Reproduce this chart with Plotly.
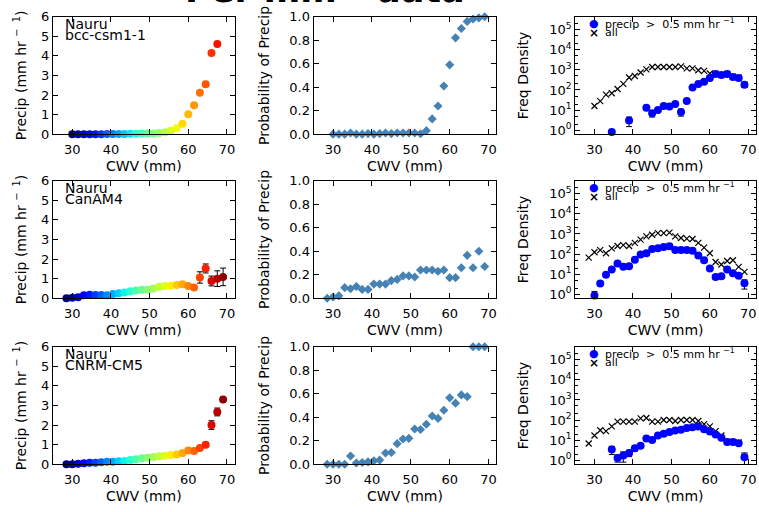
import plotly.graph_objects as go
from plotly.subplots import make_subplots

FONT = "DejaVu Sans"

# ---------------- data ----------------
# CWV bin centres (mm)
cwv_bcc = [30.0, 31.5, 33.0, 34.5, 36.0, 37.5, 39.0, 40.5, 42.0, 43.5, 45.0, 46.5, 48.0, 49.5,
           51.0, 52.5, 54.0, 55.5, 57.0, 58.5, 60.0, 61.5, 63.0, 64.5, 66.0, 67.5, 69.0]
cwv_mod = [28.5, 30.0, 31.5, 33.0, 34.5, 36.0, 37.5, 39.0, 40.5, 42.0, 43.5, 45.0, 46.5, 48.0,
           49.5, 51.0, 52.5, 54.0, 55.5, 57.0, 58.5, 60.0, 61.5, 63.0, 64.5, 66.0, 67.5, 69.0]

site = "Nauru"
models = ["bcc-csm1-1", "CanAM4", "CNRM-CM5"]

# bcc-csm1-1
bcc_precip = [0.0, 0.0, 0.0, 0.0, 0.0, 0.0, 0.01, 0.01, 0.01, 0.01, 0.02, 0.02, 0.03, 0.03,
              0.04, 0.06, 0.1, 0.18, 0.3, 0.53, 1.02, 1.48, 2.12, 2.55, 4.15, 4.6, None]
bcc_precip_err = [0] * 27
bcc_prob = [0.0, 0.0, 0.0, 0.01, 0.0, 0.0, 0.005, 0.0, 0.005, 0.01, 0.005, 0.01, 0.01, 0.01,
            0.01, 0.003, 0.03, 0.13, 0.24, 0.41, 0.59, 0.82, 0.9, 0.96, 0.98, 0.99, 1.0]
bcc_all = [16, 28, 59, 69, 112, 200, 420, 500, 740, 1070, 1400, 1400, 1400, 1400, 1400, 1500,
           1200, 1200, 960, 890, 660, 640, 570, 640, 460, 410, 185]
bcc_wet = [None, None, None, 0.8, None, None, 3.0, None, None, 13, 7, 10, 16, 15, 20, 8, 28,
           135, 200, 260, 400, 630, 560, 630, 450, 400, 180]
bcc_wet_err = [0, 0, 0, 0, 0, 0, 1.5, 0, 0, 0, 2.5, 0, 0, 0, 0, 3, 0, 0, 0, 0, 0, 0, 0, 0, 0, 0, 0]

# CanAM4
can_precip = [0.0, 0.02, 0.05, 0.15, 0.18, 0.17, 0.16, 0.15, 0.22, 0.26, 0.29, 0.35, 0.39, 0.43,
              0.43, 0.5, 0.58, 0.63, 0.64, 0.68, 0.71, 0.63, 0.55, 1.06, 1.52, 0.88, 1.0, 1.09]
can_precip_err = [0, 0, 0, 0, 0, 0, 0, 0, 0, 0, 0, 0, 0, 0, 0, 0, 0, 0, 0, 0, 0, 0, 0,
                  0.29, 0.23, 0.25, 0.4, 0.45]
can_prob = [0.0, 0.01, 0.02, 0.09, 0.08, 0.1, 0.075, 0.075, 0.12, 0.12, 0.12, 0.15, 0.16, 0.19,
            0.19, 0.18, 0.24, 0.24, 0.24, 0.23, 0.24, 0.175, 0.175, 0.26, 0.365, 0.26, 0.4, 0.27]
can_all = [66, 123, 158, 110, 190, 250, 280, 250, 360, 525, 760, 910, 1100, 1100, 1170, 760,
           630, 590, 560, 360, 210, 110, 40, 30, 45, 49, 23, 13]
can_wet = [None, 0.87, 3.4, 9.3, 17, 34, 23, 25, 52, 94, 110, 177, 195, 227, 245, 158, 158,
           158, 147, 84, 49, 19, 7.2, 7.8, 17, 11, 8.4, 3.5]
can_wet_err = [0, 0.5, 0, 0, 0, 0, 0, 0, 0, 0, 0, 0, 0, 0, 0, 0, 0, 0, 0, 0, 0, 0, 1.5, 0, 0,
               0, 0, 1.7]

# CNRM-CM5
cnrm_precip = [0.0, 0.0, 0.02, 0.05, 0.07, 0.08, 0.1, 0.12, 0.13, 0.15, 0.17, 0.22, 0.25, 0.3,
               0.33, 0.37, 0.4, 0.43, 0.47, 0.5, 0.57, 0.7, 0.67, 0.83, 1.0, 2.0, 2.67, 3.3]
cnrm_precip_err = [0, 0, 0, 0, 0, 0, 0, 0, 0, 0, 0, 0, 0, 0, 0, 0, 0, 0, 0, 0, 0, 0, 0,
                   0.05, 0.1, 0.22, 0.2, 0.06]
cnrm_prob = [0.0, 0.0, 0.0, 0.0, 0.07, 0.01, 0.015, 0.02, 0.03, 0.035, 0.095, 0.1, 0.175, 0.215,
             0.22, 0.3, 0.295, 0.34, 0.41, 0.39, 0.46, 0.565, 0.52, 0.59, 0.575, 1.0, 1.0, 1.0]
cnrm_all = [6.8, 17, 31, 28, 48, 83, 83, 83, 83, 120, 126, 83, 83, 100, 100, 89, 100, 100, 100,
            89, 62, 48, 28, 17, 8.1, 8.1, 7.6, 1.5]
cnrm_wet = [None, None, None, None, 3.4, 1.3, 1.7, 2.3, 3.9, 5.2, 12, 10, 17, 21, 25, 30, 33,
            40, 44, 48, 35, 27, 19, 13, 8, 8, 7, 1.4]
cnrm_wet_err = [0, 0, 0, 0, 1.5, 0.5, 0.9, 0.8, 1.0, 0, 0, 0, 0, 0, 0, 0, 0, 0, 0, 0, 0, 0, 0,
                0, 0, 0, 0, 0.9]

x_ticks = [30, 40, 50, 60, 70]
precip_ticks = [0, 1, 2, 3, 4, 5, 6]
prob_ticks = [0.0, 0.2, 0.4, 0.6, 0.8, 1.0]
freq_ticks = [1, 10, 100, 1000, 10000, 100000]
freq_ticktext = ["10<sup>0</sup>", "10<sup>1</sup>", "10<sup>2</sup>",
                 "10<sup>3</sup>", "10<sup>4</sup>", "10<sup>5</sup>"]

rows = [
    dict(model=models[0], x=cwv_bcc, precip=bcc_precip, perr=bcc_precip_err, prob=bcc_prob,
         all=bcc_all, wet=bcc_wet, werr=bcc_wet_err, cmin=30.0, cmax=72.0),
    dict(model=models[1], x=cwv_mod, precip=can_precip, perr=can_precip_err, prob=can_prob,
         all=can_all, wet=can_wet, werr=can_wet_err, cmin=28.5, cmax=69.5),
    dict(model=models[2], x=cwv_mod, precip=cnrm_precip, perr=cnrm_precip_err, prob=cnrm_prob,
         all=cnrm_all, wet=cnrm_wet, werr=cnrm_wet_err, cmin=28.5, cmax=69.5),
]


# matplotlib-style "jet" colour map built from its piecewise-linear segments
def _seg(points, v):
    for (x0, y0), (x1, y1) in zip(points[:-1], points[1:]):
        if x0 <= v <= x1:
            return y0 if x1 == x0 else y0 + (y1 - y0) * (v - x0) / (x1 - x0)
    return points[-1][1]


_red = [(0, 0), (0.35, 0), (0.66, 1), (0.89, 1), (1, 0.5)]
_green = [(0, 0), (0.125, 0), (0.375, 1), (0.64, 1), (0.91, 0), (1, 0)]
_blue = [(0, 0.5), (0.11, 1), (0.34, 1), (0.65, 0), (1, 0)]
_stops = [0, 0.11, 0.125, 0.34, 0.35, 0.375, 0.64, 0.65, 0.66, 0.89, 0.91, 1]
jet = [[s, "rgb(%d,%d,%d)" % (round(255 * _seg(_red, s)), round(255 * _seg(_green, s)),
                              round(255 * _seg(_blue, s)))] for s in _stops]

# ---------------- figure ----------------
fig = make_subplots(rows=3, cols=3)

col_dom = [[53 / 759, 235 / 759], [314 / 759, 497 / 759], [576 / 759, 757 / 759]]
row_dom = [[1 - 131 / 512, 1 - 10 / 512], [1 - 300 / 512, 1 - 179 / 512],
           [1 - 471 / 512, 1 - 350 / 512]]

err_style = dict(type="data", color="black", thickness=1, width=3)

for r, d in enumerate(rows, start=1):
    # mean precip vs CWV
    fig.add_trace(go.Scatter(
        x=d["x"], y=d["precip"], mode="markers", cliponaxis=False,
        marker=dict(size=8, color=d["x"], colorscale=jet, cmin=d["cmin"], cmax=d["cmax"],
                    line=dict(width=0)),
        error_y=dict(array=d["perr"], **err_style), showlegend=False), row=r, col=1)
    # probability of precip
    fig.add_trace(go.Scatter(
        x=d["x"], y=d["prob"], mode="markers", cliponaxis=False,
        marker=dict(size=7, symbol="diamond", color="#4682B4", line=dict(width=0)),
        showlegend=False), row=r, col=2)
    # frequency densities
    fig.add_trace(go.Scatter(
        x=d["x"], y=d["all"], mode="markers", cliponaxis=False,
        marker=dict(size=6, symbol="x-thin-open", color="black", line=dict(width=1.2, color="black")),
        showlegend=False), row=r, col=3)
    fig.add_trace(go.Scatter(
        x=d["x"], y=d["wet"], mode="markers", cliponaxis=False,
        marker=dict(size=8, color="#0000FF", line=dict(width=0)),
        error_y=dict(array=d["werr"], **err_style), showlegend=False), row=r, col=3)

    # site / model label
    ax1 = (r - 1) * 3 + 1
    xr1 = "x%s domain" % ("" if ax1 == 1 else ax1)
    yr1 = "y%s domain" % ("" if ax1 == 1 else ax1)
    fig.add_annotation(xref=xr1, yref=yr1, x=0.055, y=0.935, xanchor="left", yanchor="middle",
                       showarrow=False, text=site,
                       font=dict(family=FONT, size=14, color="black"))
    fig.add_annotation(xref=xr1, yref=yr1, x=0.055, y=0.845, xanchor="left", yanchor="middle",
                       showarrow=False, text=d["model"],
                       font=dict(family=FONT, size=14, color="black"))
    # legend of the frequency panel
    ax3 = (r - 1) * 3 + 3
    xr, yr = "x%d domain" % ax3, "y%d domain" % ax3
    fig.add_annotation(xref=xr, yref=yr, x=0.105, y=0.945, xanchor="center", yanchor="middle",
                       showarrow=False, text="●",
                       font=dict(family=FONT, size=11, color="#0000FF"))
    fig.add_annotation(xref=xr, yref=yr, x=0.155, y=0.94, xanchor="left", yanchor="middle",
                       showarrow=False, text="precip  >  0.5 mm hr <sup>−1</sup>",
                       font=dict(family=FONT, size=11, color="black"))
    fig.add_annotation(xref=xr, yref=yr, x=0.105, y=0.862, xanchor="center", yanchor="middle",
                       showarrow=False, text="<b>×</b>",
                       font=dict(family=FONT, size=12, color="black"))
    fig.add_annotation(xref=xr, yref=yr, x=0.155, y=0.862, xanchor="left", yanchor="middle",
                       showarrow=False, text="all",
                       font=dict(family=FONT, size=11, color="black"))

axis_common = dict(showline=True, linecolor="black", linewidth=1, mirror="ticks",
                   ticks="inside", ticklen=5, tickwidth=1, tickcolor="black",
                   showgrid=False, zeroline=False,
                   tickfont=dict(family=FONT, size=13, color="black"))
title_font = dict(family=FONT, size=14, color="black")

for r in range(1, 4):
    for c in range(1, 4):
        fig.update_xaxes(axis_common, row=r, col=c, domain=col_dom[c - 1], range=[25, 72],
                         tickvals=x_ticks, ticklabelstandoff=3,
                         title=dict(text="CWV (mm)", font=title_font, standoff=5))
        fig.update_yaxes(axis_common, row=r, col=c, domain=row_dom[r - 1])
    fig.update_yaxes(row=r, col=1, range=[0, 6], tickvals=precip_ticks,
                     title=dict(text="Precip (mm hr <sup>−  1</sup>)", font=title_font, standoff=11))
    fig.update_yaxes(row=r, col=2, range=[0, 1], tickvals=prob_ticks, tickformat=".1f",
                     title=dict(text="Probability of Precip", font=title_font, standoff=16))
    fig.update_yaxes(row=r, col=3, type="log", range=[-0.2, 5.65], tickvals=freq_ticks,
                     ticktext=freq_ticktext,
                     minor=dict(ticks="inside", ticklen=2.5, tickwidth=1, tickcolor="black",
                                showgrid=False),
                     title=dict(text="Freq Density", font=title_font, standoff=17))

# figure heading (runs off the top of the page)
fig.add_annotation(xref="paper", yref="paper", x=0.242, y=1, yanchor="bottom", yshift=-5,
                   showarrow=False, text="<b>Per mm - data</b>",
                   font=dict(family=FONT, size=35, color="black"))

fig.update_layout(width=759, height=512, margin=dict(l=0, r=0, t=0, b=0),
                  paper_bgcolor="white", plot_bgcolor="white", showlegend=False,
                  font=dict(family=FONT, color="black"))

fig.write_html("out.html")
